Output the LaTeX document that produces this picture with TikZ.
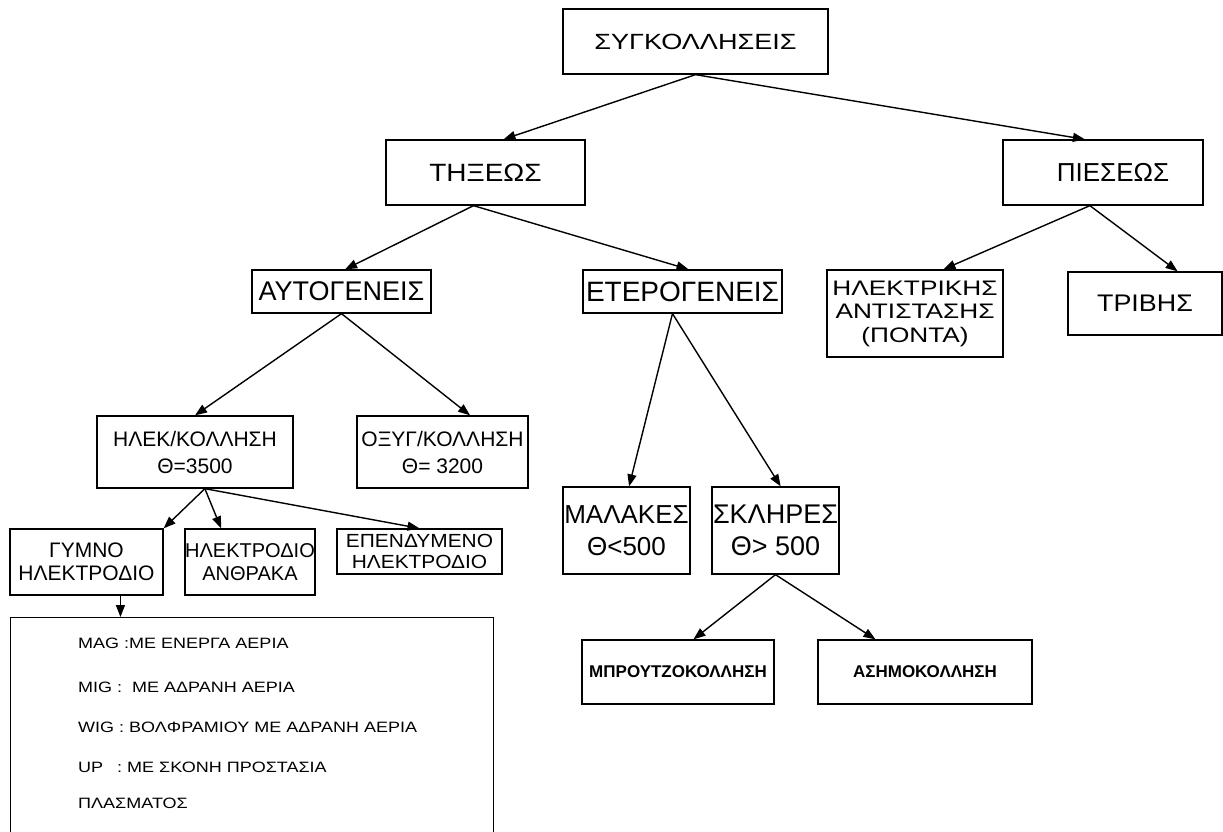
\documentclass[tikz,border=0pt]{standalone}
\usepackage{fontspec}
\setmainfont{Liberation Sans}
\usetikzlibrary{arrows.meta,calc}
\newcommand\cl[1]{\makebox[0pt]{#1}}
\newcommand\fnt[3]{\fontsize{#1}{#2}\selectfont\addfontfeatures{FakeStretch=#3}}
\begin{document}
\begin{tikzpicture}[x=1pt,y=-1pt,
  >={Triangle[length=12pt,width=9pt]},
  arr/.style={->,line width=1.4pt},
  box/.style={draw,line width=1.3pt,inner sep=0pt,align=center},
  bigtxt/.style={anchor=west,inner sep=0pt,font=\fnt{15}{18}{1.2}}]
\clip (0,0) rectangle (1223,832);
\fill[white] (0,0) rectangle (1223,832);
% boxes
\node[box,minimum width=265pt,minimum height=65pt,font=\fnt{22}{26}{1.23}] (s0) at (695.5,41.5) {\cl{ΣΥΓΚΟΛΛΗΣΕΙΣ}};
\node[box,minimum width=199pt,minimum height=65pt,font=\fnt{25}{28}{1.12}] (t1) at (485.5,172.5) {\cl{ΤΗΞΕΩΣ}};
\node[box,minimum width=200pt,minimum height=65pt,font=\fnt{26}{28}{1.0}] (t2) at (1103,172.5) {\cl{\hspace*{20pt}ΠΙΕΣΕΩΣ}};
\node[box,minimum width=179pt,minimum height=43pt,font=\fnt{27}{30}{1.0}] (a1) at (341.5,291.5) {\cl{ΑΥΤΟΓΕΝΕΙΣ}};
\node[box,minimum width=199pt,minimum height=43pt,font=\fnt{28}{30}{1.0}] (a2) at (682.5,291.5) {\cl{ΕΤΕΡΟΓΕΝΕΙΣ}};
\node[box,minimum width=176pt,minimum height=87pt,font=\fnt{21}{23.5}{1.25}] (p1) at (915,313.5) {\cl{ΗΛΕΚΤΡΙΚΗΣ}\\\cl{ΑΝΤΙΣΤΑΣΗΣ}\\\cl{(ΠΟΝΤΑ)}};
\node[box,minimum width=154pt,minimum height=63pt,font=\fnt{24}{26}{1.12}] (p2) at (1145,303.5) {\cl{ΤΡΙΒΗΣ}};
\node[box,minimum width=196pt,minimum height=72pt,font=\fnt{21}{27}{1.0}] (h) at (195,452) {\cl{ΗΛΕΚ/ΚΟΛΛΗΣΗ}\\\cl{Θ=3500}};
\node[box,minimum width=171pt,minimum height=72pt,font=\fnt{21}{27}{1.0}] (o) at (442.5,452) {\cl{ΟΞΥΓ/ΚΟΛΛΗΣΗ}\\\cl{Θ= 3200}};
\node[box,minimum width=153pt,minimum height=66pt,font=\fnt{21}{23}{1.0}] (g1) at (86.5,562) {\cl{ΓΥΜΝΟ}\\\cl{ΗΛΕΚΤΡΟΔΙΟ}};
\node[box,minimum width=130pt,minimum height=66pt,font=\fnt{20}{23}{1.0}] (g2) at (250,562) {\cl{ΗΛΕΚΤΡΟΔΙΟ}\\\cl{ΑΝΘΡΑΚΑ}};
\node[box,minimum width=165pt,minimum height=45pt,font=\fnt{19}{21}{1.1}] (g3) at (419.5,551.5) {\cl{ΕΠΕΝΔΥΜΕΝΟ}\\\cl{ΗΛΕΚΤΡΟΔΙΟ}};
\node[box,minimum width=127pt,minimum height=87pt,font=\fnt{26}{32}{1.0}] (m1) at (626.5,530.5) {\cl{ΜΑΛΑΚΕΣ}\\\cl{Θ<500}};
\node[box,minimum width=127pt,minimum height=87pt,font=\fnt{27}{32}{1.0}] (m2) at (775.5,530.5) {\cl{ΣΚΛΗΡΕΣ}\\\cl{Θ> 500}};
\node[box,minimum width=192pt,minimum height=64pt,font=\fnt{17}{20}{1.0}\bfseries] (b1) at (678,672) {\cl{ΜΠΡΟΥΤΖΟΚΟΛΛΗΣΗ}};
\node[box,minimum width=214pt,minimum height=64pt,font=\fnt{17}{20}{1.0}\bfseries] (b2) at (925,672) {\cl{ΑΣΗΜΟΚΟΛΛΗΣΗ}};
\node[box,minimum width=483pt,minimum height=243pt,anchor=north west] (big) at (10,617) {};
\node[bigtxt] (l1) at (78,643) {MAG :ΜΕ ΕΝΕΡΓΑ ΑΕΡΙΑ};
\node[bigtxt] (l2) at (78,687) {MIG :\ \ ΜΕ ΑΔΡΑΝΗ ΑΕΡΙΑ};
\node[bigtxt] (l3) at (78,727) {WIG : ΒΟΛΦΡΑΜΙΟΥ ΜΕ ΑΔΡΑΝΗ ΑΕΡΙΑ};
\node[bigtxt] (l4) at (78,767) {UP\hspace{14pt}: ΜΕ ΣΚΟΝΗ ΠΡΟΣΤΑΣΙΑ};
\node[bigtxt] (l5) at (78,803) {ΠΛΑΣΜΑΤΟΣ};
% connectors
\coordinate (t1b) at ($(t1.south west)!0.44!(t1.south east)$);
\coordinate (t2b) at ($(t2.south west)!0.435!(t2.south east)$);
\coordinate (a2b) at ($(a2.south west)!0.45!(a2.south east)$);
\coordinate (hb) at ($(h.south west)!0.55!(h.south east)$);
\coordinate (g1b) at ($(g1.south west)!0.72!(g1.south east)$);
\draw[arr] (s0.south) -- ($(t1.north west)!0.59!(t1.north east)$);
\draw[arr] (s0.south) -- ($(t2.north west)!0.41!(t2.north east)$);
\draw[arr] (t1b) -- ($(a1.north west)!0.52!(a1.north east)$);
\draw[arr] (t1b) -- ($(a2.north west)!0.53!(a2.north east)$);
\draw[arr] (t2b) -- ($(p1.north west)!0.66!(p1.north east)$);
\draw[arr] (t2b) -- ($(p2.north west)!0.71!(p2.north east)$);
\draw[arr] (a1.south) -- (h.north);
\draw[arr] (a1.south) -- ($(o.north west)!0.66!(o.north east)$);
\draw[arr] (a2b) -- ($(m1.north west)!0.52!(m1.north east)$);
\draw[arr] (a2b) -- ($(m2.north west)!0.54!(m2.north east)$);
\draw[arr] (hb) -- (g1.north east);
\draw[arr] (hb) -- ($(g2.north west)!0.28!(g2.north east)$);
\draw[arr] (hb) -- (g3.north);
\draw[arr] (g1b) -- (g1b |- big.north);
\draw[arr] (m2.south) -- ($(b1.north west)!0.58!(b1.north east)$);
\draw[arr] (m2.south) -- ($(b2.north west)!0.27!(b2.north east)$);
\end{tikzpicture}
\end{document}
